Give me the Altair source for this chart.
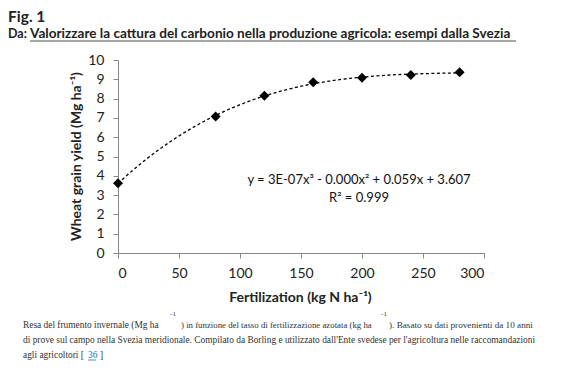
import altair as alt
import pandas as pd

# ---- data ----
fert = [0, 80, 120, 160, 200, 240, 280]
yield_mg = [3.62, 7.07, 8.15, 8.85, 9.08, 9.22, 9.36]
x_ticks = [0, 50, 100, 150, 200, 250, 300]
y_ticks = [0, 1, 2, 3, 4, 5, 6, 7, 8, 9, 10]

fig_label = "Fig. 1"
source_prefix = "Da:"
source_title = "Valorizzare la cattura del carbonio nella produzione agricola: esempi dalla Svezia"
equation = "y = 3E-07x³ - 0.000x² + 0.059x + 3.607"
r2 = "R² = 0.999"
cap1a = "Resa del frumento invernale (Mg ha"
cap1b = ") in funzione del tasso di fertilizzazione azotata (kg ha"
cap1c = "). Basato su dati provenienti da 10 anni"
cap2 = "di prove sul campo nella Svezia meridionale. Compilato da Borling e utilizzato dall'Ente svedese per l'agricoltura nelle raccomandazioni"
cap3 = "agli agricoltori ["
cap3_ref = "36"
cap3_end = "]"

df = pd.DataFrame({"fert": fert, "yield": yield_mg})

SANS = "Lato"
W, H = 366, 193

xs = alt.Scale(domain=[0, 300], nice=False)
ys = alt.Scale(domain=[0, 10], nice=False)

x_axis = alt.Axis(
    values=x_ticks, title="Fertilization (kg N ha⁻¹)", grid=False,
    titleX=182, titleY=44, titleBaseline="middle", titleAlign="center",
    labelPadding=8, labelOverlap=False,
)
y_axis = alt.Axis(
    values=y_ticks, title="Wheat grain yield (Mg ha⁻¹)", grid=False,
    titleX=-42, titleY=96, titleBaseline="middle", titleAlign="center",
    titleAngle=270, labelPadding=9, labelOverlap=False, labelFlush=False,
)

base = alt.Chart(df)

trend = base.transform_regression(
    "fert", "yield", method="poly", order=3, extent=[0, 280]
).mark_line(color="black", strokeWidth=1.3, strokeDash=[3, 2.5]).encode(
    x=alt.X("fert:Q", scale=xs, axis=x_axis),
    y=alt.Y("yield:Q", scale=ys, axis=y_axis),
)

points = base.mark_point(shape="diamond", filled=True, color="black", size=100, opacity=1).encode(
    x=alt.X("fert:Q", scale=xs, axis=x_axis),
    y=alt.Y("yield:Q", scale=ys, axis=y_axis),
)


def txt(s, x, y, size, color="#222", weight="normal", font=SANS, align="left", baseline="middle"):
    return alt.Chart(pd.DataFrame({"t": [s]})).mark_text(
        align=align, baseline=baseline, fontSize=size, font=font,
        fontWeight=weight, color=color,
    ).encode(x=alt.value(x), y=alt.value(y), text="t:N")


def rule(x1, x2, y, color, w=1):
    return alt.Chart(pd.DataFrame({"t": [0]})).mark_rule(color=color, strokeWidth=w).encode(
        x=alt.value(x1), x2=alt.value(x2), y=alt.value(y)
    )


SERIF = "Liberation Serif"
CAP = 9.4
CAPC = "#333"

layers = [
    trend,
    points,
    txt(equation, 241, 120, 13, color="#111", align="center"),
    txt(r2, 241, 138, 13, color="#111", align="center"),
    txt(fig_label, -110, -38, 15.5, weight="bold", baseline="alphabetic"),
    txt(source_prefix, -110, -22, 12.5, weight="bold", baseline="alphabetic"),
    txt(source_title, -88, -22, 13.6, weight="bold", baseline="alphabetic"),
    rule(-88, 398, -19, "#888", 1.3),
    txt(cap1a, -95, 265, CAP, color=CAPC, font=SERIF),
    txt("-1", 55, 254, 7, color=CAPC, font=SERIF, align="center"),
    txt(cap1b, 63, 265, 8.8, color=CAPC, font=SERIF),
    txt("-1", 266, 254, 7, color=CAPC, font=SERIF, align="center"),
    txt(cap1c, 271, 265, 9.2, color=CAPC, font=SERIF),
    txt(cap2, -95, 280, CAP, color=CAPC, font=SERIF),
    txt(cap3, -95, 295, CAP, color=CAPC, font=SERIF),
    txt(cap3_ref, -30, 295, CAP, color="#2b6cb0", font=SERIF),
    rule(-30, -22, 300, "#2b6cb0", 0.8),
    txt(cap3_end, -18, 295, CAP, color=CAPC, font=SERIF),
]

chart = alt.layer(*layers).properties(
    width=W, height=H,
    padding={"left": 110, "top": 52, "right": 70, "bottom": 115},
    autosize=alt.AutoSizeParams(type="none"),
).configure_view(stroke=None).configure_axis(
    domainColor="#868686", tickColor="#868686", tickSize=5,
    labelFont=SANS, labelFontSize=14, labelColor="#222", labelOverlap=False,
    titleFont=SANS, titleFontSize=14, titleFontWeight="bold", titleColor="#222",
)

chart.save("out.html", embed_options={"renderer": "svg", "actions": False})
